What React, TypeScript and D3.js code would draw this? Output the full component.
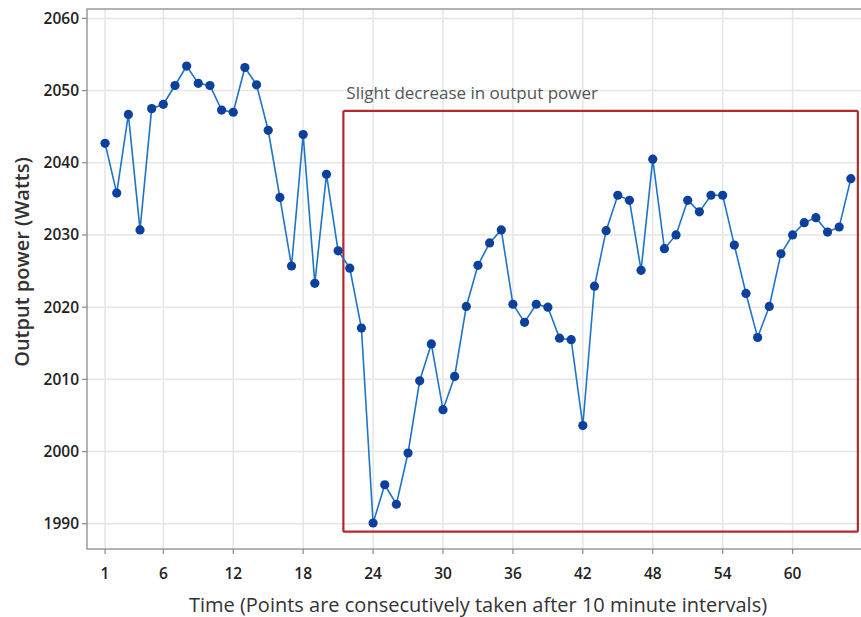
import React from "react";
import * as d3 from "d3";

const W = 861;
const H = 617;

const times: number[] = Array.from({ length: 65 }, (_, i) => i + 1);
const power: number[] = [
  2042.7, 2035.8, 2046.7, 2030.7, 2047.5, 2048.1, 2050.7, 2053.4, 2051.0, 2050.7,
  2047.3, 2047.0, 2053.2, 2050.8, 2044.5, 2035.2, 2025.7, 2043.9, 2023.3, 2038.4,
  2027.8, 2025.4, 2017.1, 1990.1, 1995.4, 1992.7, 1999.8, 2009.8, 2014.9, 2005.8,
  2010.4, 2020.1, 2025.8, 2028.9, 2030.7, 2020.4, 2017.9, 2020.4, 2020.0, 2015.7,
  2015.5, 2003.6, 2022.9, 2030.6, 2035.5, 2034.8, 2025.1, 2040.5, 2028.1, 2030.0,
  2034.8, 2033.2, 2035.5, 2035.5, 2028.6, 2021.9, 2015.8, 2020.1, 2027.4, 2030.0,
  2031.7, 2032.4, 2030.4, 2031.1, 2037.8,
];
const xTicks: number[] = [1, 6, 12, 18, 24, 30, 36, 42, 48, 54, 60];
const yTicks: number[] = [1990, 2000, 2010, 2020, 2030, 2040, 2050, 2060];

// annotation box in data units
const boxX: [number, number] = [21.45, 65.6];
const boxY: [number, number] = [1988.9, 2047.2];
const boxLabel = "Slight decrease in output power";
const xTitle = "Time (Points are consecutively taken after 10 minute intervals)";
const yTitle = "Output power (Watts)";

const left = 87;
const top = 9;
const right = 866;
const bottom = 549;

export default function App() {
  const x = d3.scaleLinear().domain([-0.55, 66.3]).range([left, right]);
  const y = d3.scaleLinear().domain([1986.5, 2061.3]).range([bottom, top]);
  const line = d3
    .line<number>()
    .x((_, i) => x(times[i]))
    .y((d) => y(d));

  const font = "'Open Sans', 'Noto Sans', sans-serif";

  return (
    <div style={{ position: "absolute", left: 0, top: 0 }}>
      <svg width={W} height={H} style={{ display: "block", background: "#fff" }}>
        {/* grid */}
        {yTicks.map((t) => (
          <line key={"gy" + t} x1={left} x2={right} y1={y(t)} y2={y(t)} stroke="#e6e6e6" strokeWidth={1.5} />
        ))}
        {xTicks.map((t) => (
          <line key={"gx" + t} x1={x(t)} x2={x(t)} y1={top} y2={bottom} stroke="#e6e6e6" strokeWidth={1.5} />
        ))}
        {/* frame */}
        <rect x={left} y={top} width={right - left} height={bottom - top} fill="none" stroke="#9a9a9a" strokeWidth={1.5} />
        {/* ticks */}
        {yTicks.map((t) => (
          <g key={"ty" + t}>
            <line x1={left - 5} x2={left} y1={y(t)} y2={y(t)} stroke="#8a8a8a" strokeWidth={1.2} />
            <text x={left - 8} y={y(t)} dy="0.35em" textAnchor="end" fontFamily={font} fontWeight={600} fontSize={15.5} fill="#222">
              {t}
            </text>
          </g>
        ))}
        {xTicks.map((t) => (
          <g key={"tx" + t}>
            <line x1={x(t)} x2={x(t)} y1={bottom} y2={bottom + 5} stroke="#8a8a8a" strokeWidth={1.2} />
            <text x={x(t)} y={bottom + 30} textAnchor="middle" fontFamily={font} fontWeight={600} fontSize={15.5} fill="#222">
              {t}
            </text>
          </g>
        ))}
        {/* axis titles */}
        <text x={478} y={612} textAnchor="middle" fontFamily={font} fontSize={20} fill="#333">
          {xTitle}
        </text>
        <text
          transform={`translate(29,${262}) rotate(-90)`}
          textAnchor="middle"
          fontFamily={font}
          fontWeight={600}
          fontSize={20}
          fill="#333"
        >
          {yTitle}
        </text>
        {/* annotation box */}
        <rect
          x={x(boxX[0])}
          y={y(boxY[1])}
          width={x(boxX[1]) - x(boxX[0])}
          height={y(boxY[0]) - y(boxY[1])}
          fill="none"
          stroke="#b22a2a"
          strokeWidth={2.2}
          rx={1.5}
        />
        <text x={x(boxX[0]) + 3} y={y(boxY[1]) - 12} fontFamily={font} fontSize={17} fill="#555">
          {boxLabel}
        </text>
        {/* series */}
        <path d={line(power) || ""} fill="none" stroke="#1f74c8" strokeWidth={1.6} />
        {power.map((v, i) => (
          <circle key={"p" + i} cx={x(times[i])} cy={y(v)} r={4.6} fill="#0b409c" />
        ))}
      </svg>
    </div>
  );
}
